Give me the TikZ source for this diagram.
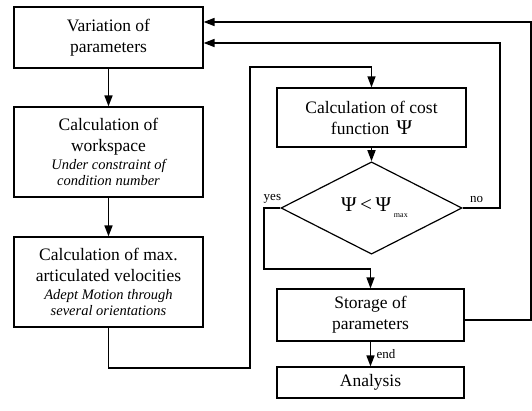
\documentclass[tikz,border=0pt]{standalone}
\usepackage{fontspec}
\setmainfont{Liberation Serif}
\usetikzlibrary{arrows.meta, positioning, shapes.geometric, calc}

\newcommand{\remark}[1]{{\fontsize{14.5}{16}\selectfont\itshape #1}}
\newcommand{\bigsym}[1]{{\fontsize{21}{21}\selectfont #1}}
\newcommand{\lowidx}[1]{\raisebox{-6pt}{\fontsize{8}{8}\selectfont #1}}

\tikzset{
  procbox/.style={rectangle, draw, line width=1.2pt, minimum width=189pt,
                  align=center, inner sep=2pt,
                  font=\fontsize{17.5}{21}\selectfont},
  testbox/.style={diamond, draw, line width=1.2pt, minimum width=181pt,
                  minimum height=78pt, inner sep=0pt,
                  font=\fontsize{17.5}{21}\selectfont},
  arrowed/.style={-{Triangle[length=11pt,width=8pt]}},
  flow/.style={line width=1.6pt, arrowed},
  loopline/.style={line width=1.2pt},
  tag/.style={font=\fontsize{13}{13}\selectfont, inner sep=0pt},
}

\begin{document}
\begin{tikzpicture}[x=1pt, y=-1pt]
  \useasboundingbox (0,0) rectangle (532,410);

  % left column
  \node[procbox, minimum height=61pt] (vary) at (108.5,37.5)
    {Variation of\\parameters};
  \node[procbox, minimum height=90pt] (wksp) at (108.5,152)
    {Calculation of\\workspace\\[-3pt]\remark{Under constraint of}\\[-5pt]
     \remark{condition number}};
  \node[procbox, minimum height=90pt] (velo) at (108.5,282)
    {Calculation of max.\\articulated velocities\\[-3pt]
     \remark{Adept Motion through}\\[-5pt]\remark{several orientations}};

  % right column
  \node[procbox, minimum height=59pt] (cost) at (371.5,117.5)
    {Calculation of cost\\function \,\bigsym{Ψ}};
  \node[testbox] (test) at (371.5,208)
    {\raisebox{-4pt}{\hspace{6pt}\bigsym{Ψ\,<\,Ψ}\,\lowidx{max}}};
  \node[procbox, minimum width=187pt, minimum height=52pt] (store)
    at (370.5,315) {Storage of\\parameters};
  \node[procbox, minimum width=187pt, minimum height=31pt] (anal)
    at (370.5,382.5) {Analysis};

  % bends of the loops
  \coordinate (c1) at (250,368);
  \coordinate (c2) at (250,67);
  \coordinate (c3) at (264,269);
  \coordinate (c4) at (500,43);
  \coordinate (c5) at (531,320);
  \coordinate (c6) at (531,22);

  \draw[flow] (vary) -- (wksp);
  \draw[flow] (wksp) -- (velo);
  \draw[flow] (cost) -- (test);
  \draw[flow] (store) -- (anal);
  \node[tag, anchor=west] (endtag) at ($(store.south)!0.5!(anal.north)+(6,0)$) {end};

  \draw[loopline, arrowed] (velo.south) |- (c1) -- (c2) -| (cost.north);
  \draw[loopline, arrowed] (test.west) -| (c3) -| (store.north);
  \draw[flow] (test.east) -| (c4) -- (vary.east |- c4);
  \draw[flow] (store.east |- c5) -- (c5) -- (c6) -- (vary.east |- c6);

  \node[tag] (yestag) at ($(test.west)+(-8,-9)$) {yes};
  \node[tag] (notag) at ($(test.east)+(14,-9)$) {no};
\end{tikzpicture}
\end{document}
